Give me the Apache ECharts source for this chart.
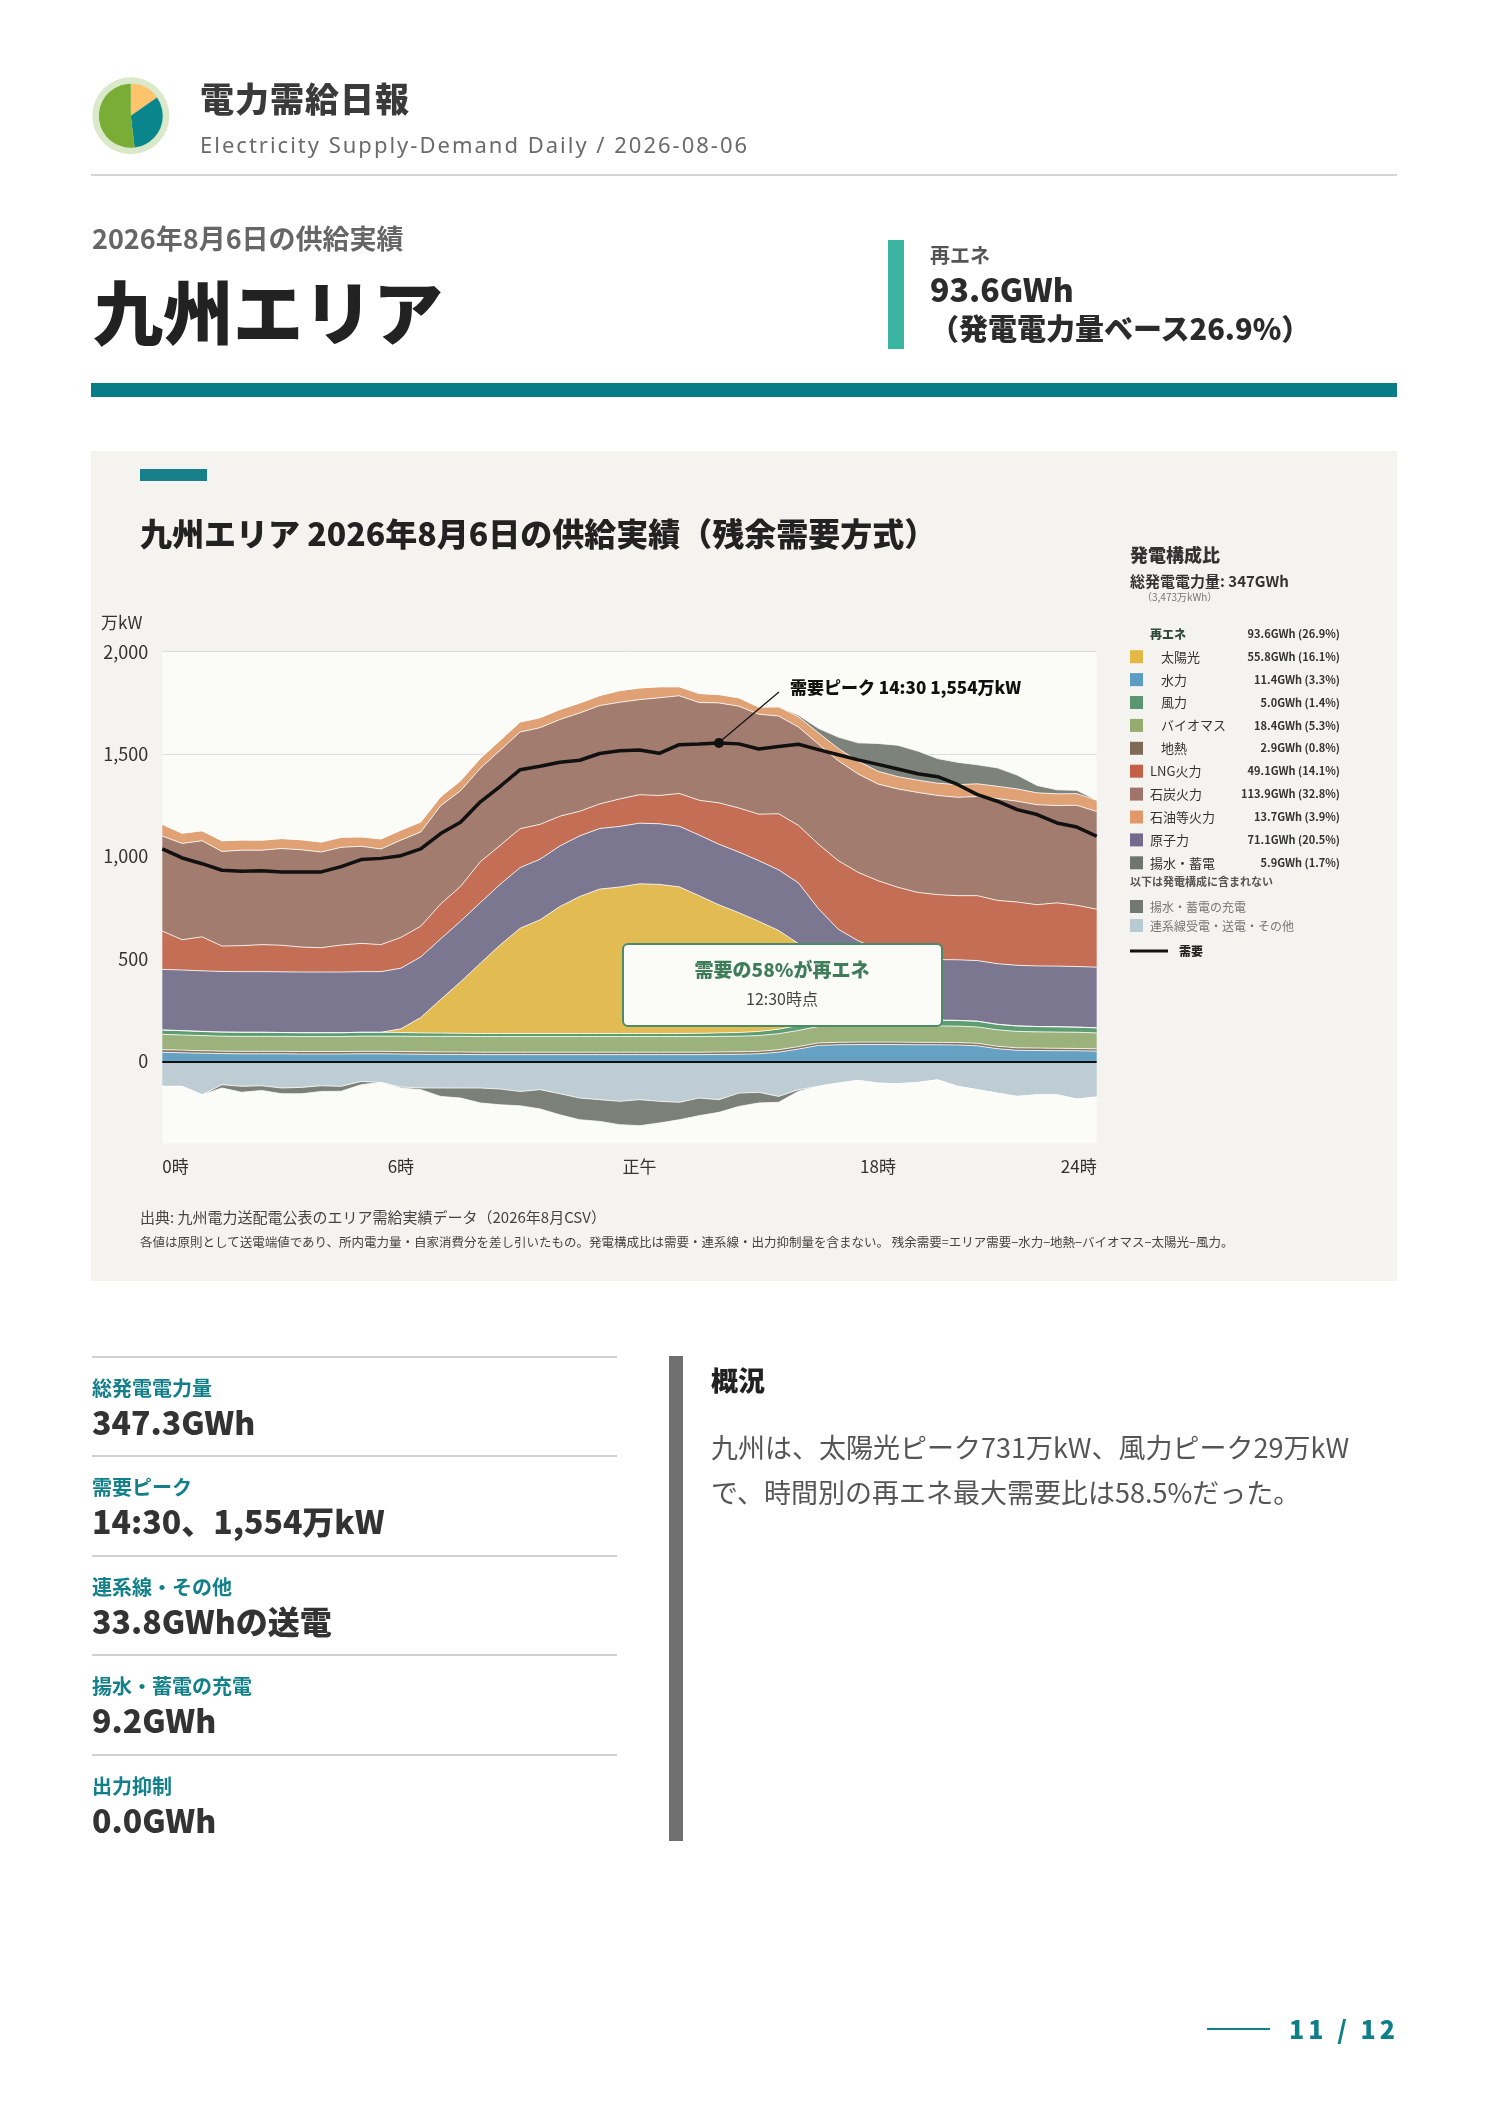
<!DOCTYPE html>
<html lang="ja">
<head>
<meta charset="utf-8">
<title>電力需給日報 九州エリア 2026-08-06</title>
<script src="https://cdn.jsdelivr.net/npm/echarts@6.0.0/dist/echarts.min.js"></script>
<style>
  html, body { margin: 0; padding: 0; background: #fff; }
  body { width: 1488px; height: 2105px; position: relative; overflow: hidden;
         font-family: 'Noto Sans CJK JP', 'Noto Sans', sans-serif; color: #333; }
  .a { position: absolute; white-space: nowrap; line-height: 1; z-index: 2; }
  .b { position: absolute; z-index: 0; }
  #chart { position: absolute; left: 0; top: 0; width: 1488px; height: 2105px; z-index: 1; }
  .lbl { font-size: 20px; font-weight: 700; color: #11808a; }
  .val { font-size: 32px; font-weight: 900; color: #333; }
</style>
</head>
<body>
<!-- 背景ブロック -->
<div class="b" style="left:91px;top:451px;width:1306px;height:830px;background:#f4f3ef;"></div>
<div id="chart"></div>

<!-- ヘッダー -->
<div class="a" style="left:200px;top:81px;font-size:34px;font-weight:900;color:#3a3a3a;letter-spacing:1px;">電力需給日報</div>
<div class="a" style="left:200px;top:133px;font-size:22px;color:#6a6a6a;letter-spacing:2px;font-family:'Noto Sans',sans-serif;">Electricity Supply-Demand Daily / 2026-08-06</div>
<div class="b" style="left:91px;top:174px;width:1306px;height:2px;background:#d4d4d4;"></div>

<div class="a" style="left:92px;top:224px;font-size:27px;font-weight:700;color:#666;">2026年8月6日の供給実績</div>
<div class="a" style="left:93px;top:275px;font-size:70px;font-weight:900;color:#222;">九州エリア</div>

<div class="b" style="left:888px;top:240px;width:16px;height:109px;background:#3cb4a2;"></div>
<div class="a" style="left:930px;top:245px;font-size:20px;font-weight:700;color:#555;">再エネ</div>
<div class="a" style="left:930px;top:272px;font-size:32px;font-weight:900;color:#2b2b2b;">93.6GWh</div>
<div class="a" style="left:930px;top:313px;font-size:29px;font-weight:900;color:#2b2b2b;">（発電電力量ベース26.9%）</div>
<div class="b" style="left:91px;top:383px;width:1306px;height:14px;background:#077d87;"></div>

<!-- チャートブロック内テキスト -->
<div class="a" style="left:140px;top:469px;width:67px;height:12px;background:#17808a;"></div>
<div class="a" style="left:140px;top:516px;font-size:32px;font-weight:900;color:#222;">九州エリア 2026年8月6日の供給実績（残余需要方式）</div>
<div class="a" style="left:101px;top:613px;font-size:17px;color:#333;">万kW</div>
<div class="a" style="left:140px;top:1209px;font-size:15px;color:#444;">出典: 九州電力送配電公表のエリア需給実績データ（2026年8月CSV）</div>
<div class="a" style="left:140px;top:1236px;font-size:12.5px;color:#444;">各値は原則として送電端値であり、所内電力量・自家消費分を差し引いたもの。発電構成比は需要・連系線・出力抑制量を含まない。 残余需要=エリア需要−水力−地熱−バイオマス−太陽光−風力。</div>

<!-- 指標 -->
<div class="b" style="left:92px;top:1356px;width:525px;height:2px;background:#d0d0d0;"></div>
<div class="a lbl" style="left:92px;top:1378px;">総発電電力量</div>
<div class="a val" style="left:92px;top:1405px;">347.3GWh</div>
<div class="b" style="left:92px;top:1455px;width:525px;height:2px;background:#d0d0d0;"></div>
<div class="a lbl" style="left:92px;top:1477px;">需要ピーク</div>
<div class="a val" style="left:92px;top:1504px;">14:30、1,554万kW</div>
<div class="b" style="left:92px;top:1555px;width:525px;height:2px;background:#d0d0d0;"></div>
<div class="a lbl" style="left:92px;top:1577px;">連系線・その他</div>
<div class="a val" style="left:92px;top:1604px;">33.8GWhの送電</div>
<div class="b" style="left:92px;top:1654px;width:525px;height:2px;background:#d0d0d0;"></div>
<div class="a lbl" style="left:92px;top:1676px;">揚水・蓄電の充電</div>
<div class="a val" style="left:92px;top:1703px;">9.2GWh</div>
<div class="b" style="left:92px;top:1754px;width:525px;height:2px;background:#d0d0d0;"></div>
<div class="a lbl" style="left:92px;top:1776px;">出力抑制</div>
<div class="a val" style="left:92px;top:1803px;">0.0GWh</div>

<!-- 概況 -->
<div class="b" style="left:669px;top:1356px;width:14px;height:485px;background:#707070;"></div>
<div class="a" style="left:711px;top:1366px;font-size:27px;font-weight:900;color:#222;">概況</div>
<div class="a" style="left:711px;top:1424px;font-size:27px;line-height:45px;color:#555;">九州は、太陽光ピーク731万kW、風力ピーク29万kW<br>で、時間別の再エネ最大需要比は58.5%だった。</div>

<!-- フッター -->
<div class="b" style="left:1207px;top:2028px;width:63px;height:2px;background:#0e7f89;"></div>
<div class="a" style="left:1289px;top:2016px;font-size:25px;font-weight:900;color:#0e7f89;letter-spacing:4px;">11 / 12</div>

<script>
// ---------------- データ（万kW, 30分値）
var times = ['0:00','0:30','1:00','1:30','2:00','2:30','3:00','3:30','4:00','4:30','5:00','5:30',
             '6:00','6:30','7:00','7:30','8:00','8:30','9:00','9:30','10:00','10:30','11:00','11:30',
             '12:00','12:30','13:00','13:30','14:00','14:30','15:00','15:30','16:00','16:30','17:00','17:30',
             '18:00','18:30','19:00','19:30','20:00','20:30','21:00','21:30','22:00','22:30','23:00','23:30'];
var tickIndex = [0, 12, 24, 36, 47];
var tickText = ['0時', '6時', '正午', '18時', '24時'];
var gridValues = [500, 1000, 1500, 2000];

var hydro = [44,42,40,38,37,37,37,36,36,36,37,37,36,35,34,34,33,33,33,33,33,33,33,33,
             33,33,33,33,34,35,37,45,60,78,81,82,82,82,81,81,80,76,62,54,53,52,52,50];
var geothermal = [13,13,12,12,12,12,12,12,12,12,12,12,12,12,12,12,12,12,12,12,12,12,12,12,
                  12,12,12,12,12,12,12,12,12,12,12,12,12,12,12,12,12,12,12,12,12,12,11,11];
var biomass = [75,74,74,73,73,73,73,73,73,73,74,74,75,75,76,76,76,76,76,76,76,76,76,76,
               76,76,76,76,76,76,77,78,79,80,80,80,80,80,80,80,80,80,80,80,79,79,79,78];
var wind = [21,21,20,20,20,20,19,19,19,19,19,19,18,17,16,15,15,15,15,15,15,15,15,15,
            15,15,15,16,17,18,20,22,24,25,26,27,28,29,29,28,28,28,27,27,26,26,25,25];
var solar = [0,0,0,0,0,0,0,0,0,0,0,0,18,75,164,251,343,433,514,555,620,669,705,715,
             731,728,716,672,625,585,538,482,400,255,150,92,48,22,7,0,0,0,0,0,0,0,0,0];
var nuclear = [296,296,296,296,296,296,296,296,296,296,296,296,296,296,296,296,296,296,296,296,296,296,296,296,
               296,296,296,296,296,296,296,296,296,296,296,296,296,296,296,296,296,296,296,296,296,296,296,296];
var lng = [187,148,166,124,127,132,130,122,119,132,138,132,150,150,170,170,200,190,190,170,145,120,120,134,
           139,138,160,170,202,215,227,274,281,315,335,334,336,329,320,317,313,317,309,309,299,309,299,283];
var coal = [464,470,469,462,466,461,472,475,467,477,474,467,475,460,480,467,456,464,472,472,472,480,480,472,
            464,477,477,477,488,497,488,477,480,488,488,480,472,480,488,484,480,484,497,492,488,475,488,477];
var oil = [57,50,49,52,50,49,49,49,49,49,46,49,49,49,44,49,49,49,49,49,49,49,49,57,
           57,54,44,44,41,41,35,45,50,55,60,62,62,60,60,60,62,62,60,60,58,57,57,55];
var pumpGen = [0,0,0,0,0,0,0,0,0,0,0,0,0,0,0,0,0,0,0,0,0,0,0,0,
               0,0,0,0,0,0,0,0,8,22,55,90,136,153,142,120,109,93,90,68,36,20,16,0];
var interconnect = [-122,-122,-163,-114,-122,-119,-130,-127,-119,-122,-98,-103,-125,-130,-130,-130,-130,-135,-147,-138,-158,-179,-187,-195,
                    -187,-195,-200,-179,-187,-155,-151,-171,-138,-122,-106,-93,-106,-109,-103,-90,-122,-138,-155,-171,-163,-163,-184,-174];
var pumpCharge = [0,0,0,-16,-29,-23,-28,-31,-28,-24,-16,0,-5,-8,-41,-49,-73,-77,-70,-94,-103,-106,-106,-114,
                  -127,-106,-85,-86,-62,-65,-52,-29,-8,0,0,0,0,0,0,0,0,0,0,0,0,0,0,0];
var demand = [1037,993,965,933,928,931,925,925,925,951,985,991,1004,1037,1112,1167,1267,1343,1424,1441,1460,1470,1503,1516,
              1520,1504,1546,1549,1554,1550,1525,1537,1548,1522,1497,1472,1450,1427,1404,1390,1352,1302,1270,1229,1205,1164,1144,1099];

// 発電構成比（凡例）
var mixNames = ['太陽光','水力','風力','バイオマス','地熱','LNG火力','石炭火力','石油等火力','原子力','揚水・蓄電'];
var mixGWh = [55.8, 11.4, 5.0, 18.4, 2.9, 49.1, 113.9, 13.7, 71.1, 5.9];
var mixShare = [16.1, 3.3, 1.4, 5.3, 0.8, 14.1, 32.8, 3.9, 20.5, 1.7];
var mixColors = ['#e3b845','#5b9dc0','#5a9670','#92ad6f','#7f6a55','#c56048','#a0746a','#e09a6a','#736b8f','#6f756c'];
var areaColors = ['#e2bc52','#65a1c2','#5e9c72','#9bb27c','#85705b','#c46f55','#a27c6e','#e0a274','#7b7791','#7d827a'];
var renewGWh = 93.6, renewShare = 26.9, renewCount = 5;
var totalGWh = 347, totalManKWh = '3,473';
var logoShares = [15.3, 32.8, 51.9];
var logoColors = ['#fdc46b', '#0b858c', '#7aad36'];

var peakLabel = '需要ピーク 14:30 1,554万kW';
var boxTitle = '需要の58%が再エネ';
var boxSub = '12:30時点';

// ---------------- 通用
var FONT = "'Noto Sans CJK JP', sans-serif";
var chart = echarts.init(document.getElementById('chart'));

function band(name, data, color) {
    return {
        name: name, type: 'line', stack: 'supply', stackStrategy: 'samesign',
        data: data, symbol: 'none', z: 2,
        lineStyle: { color: 'rgba(255,255,255,0.8)', width: 1 },
        areaStyle: { color: color, opacity: 1 },
        itemStyle: { color: color },
        emphasis: { disabled: true }
    };
}

var peakIdx = demand.indexOf(Math.max.apply(null, demand));

var series = [
    { // 目盛線（面の下に描く）
        name: 'grid', type: 'line', data: times.map(function () { return null; }),
        symbol: 'none', z: 1, silent: true,
        markLine: {
            z: 1, silent: true, symbol: ['none', 'none'], label: { show: false }, animation: false,
            lineStyle: { color: '#dcdcdc', width: 1, type: 'solid' },
            data: gridValues.map(function (v) { return { yAxis: v }; })
        }
    },
    band('水力', hydro, areaColors[1]),
    band('地熱', geothermal, areaColors[4]),
    band('バイオマス', biomass, areaColors[3]),
    band('風力', wind, areaColors[2]),
    band('太陽光', solar, areaColors[0]),
    band('原子力', nuclear, areaColors[8]),
    band('LNG火力', lng, areaColors[5]),
    band('石炭火力', coal, areaColors[6]),
    band('石油等火力', oil, areaColors[7]),
    band('揚水・蓄電', pumpGen, areaColors[9]),
    band('連系線受電・送電・その他', interconnect, '#bdcdd3'),
    band('揚水・蓄電の充電', pumpCharge, '#7b8078'),
    {
        name: '需要', type: 'line', data: demand, symbol: 'none', z: 6,
        lineStyle: { color: '#111', width: 3.5 },
        emphasis: { disabled: true },
        markLine: {
            z: 5, silent: true, symbol: ['none', 'none'], label: { show: false }, animation: false,
            lineStyle: { color: '#111', width: 2.2, type: 'solid' },
            data: [{ yAxis: 0 }]
        },
        markPoint: {
            z: 7, silent: true, symbol: 'circle', symbolSize: 10, animation: false,
            itemStyle: { color: '#111' }, label: { show: false },
            data: [{ coord: [times[peakIdx], demand[peakIdx]] }]
        }
    },
    { // ロゴ
        type: 'pie', center: [130.8, 115.8], radius: [0, 32], startAngle: 90, z: 3,
        silent: true, label: { show: false }, labelLine: { show: false },
        data: logoShares.map(function (v, i) { return { value: v, itemStyle: { color: logoColors[i] } }; })
    }
];

var option = {
    animation: false,
    textStyle: { fontFamily: FONT },
    grid: { left: 162.3, top: 651.7, width: 934.4, height: 491.6, show: true,
            backgroundColor: '#fbfbf7', borderWidth: 0 },
    xAxis: {
        type: 'category', data: times, boundaryGap: false,
        axisLine: { show: false }, axisTick: { show: false }, splitLine: { show: false },
        axisLabel: {
            interval: function (i) { return tickIndex.indexOf(i) >= 0; },
            formatter: function (v, i) { var k = tickIndex.indexOf(i); return k >= 0 ? tickText[k] : ''; },
            margin: 15, fontSize: 17, color: '#333', fontFamily: FONT,
            alignMinLabel: 'left', alignMaxLabel: 'right'
        }
    },
    yAxis: {
        type: 'value', min: -400, max: 2000, interval: 100,
        axisLine: { show: false }, axisTick: { show: false }, splitLine: { show: false },
        axisLabel: {
            formatter: function (v) { return (v >= 0 && v % 500 === 0) ? v.toLocaleString('en-US') : ''; },
            margin: 14, fontSize: 18, color: '#333', fontFamily: FONT
        }
    },
    series: series
};
chart.setOption(option);

// ---------------- 注記・凡例（graphic）
function txt(x, y, s, font, fill, align) {
    return { type: 'text', z: 50, silent: true,
             style: { x: x, y: y, text: s, font: font, fill: fill,
                      textAlign: align || 'left', align: align || 'left',
                      textVerticalAlign: 'middle', verticalAlign: 'middle' } };
}
var g = [];
g.push({ type: 'circle', z: 0, silent: true, shape: { cx: 130.8, cy: 115.8, r: 38.5 }, style: { fill: '#d9e9c9' } });

// ピーク注記
var p = chart.convertToPixel({ gridIndex: 0 }, [peakIdx, demand[peakIdx]]);
g.push({ type: 'line', z: 50, silent: true,
         shape: { x1: p[0] + 3, y1: p[1] - 3, x2: p[0] + 60, y2: p[1] - 51 },
         style: { stroke: '#111', lineWidth: 1.2 } });
g.push(txt(p[0] + 71, p[1] - 56, peakLabel, '900 17px ' + FONT, '#111'));

// 再エネ比率ボックス
g.push({ type: 'rect', z: 50, silent: true,
         shape: { x: 623, y: 944, width: 319, height: 82, r: 5 },
         style: { fill: '#fbfbf7', stroke: '#4d8a68', lineWidth: 2 } });
g.push(txt(782, 970, boxTitle, '900 19px ' + FONT, '#3f7d5a', 'center'));
g.push(txt(782, 999, boxSub, '16px ' + FONT, '#444', 'center'));

// 発電構成比
var LX = 1130, VX = 1340;
g.push(txt(LX, 555, '発電構成比', '900 18px ' + FONT, '#333'));
g.push(txt(LX, 581, '総発電電力量: ' + totalGWh + 'GWh', 'bold 15px ' + FONT, '#333'));
g.push(txt(LX + 12, 597, '（' + totalManKWh + '万kWh）', '10px ' + FONT, '#777'));
g.push(txt(1150, 634, '再エネ', '900 12px ' + FONT, '#2f4a37'));
g.push(txt(VX, 634, renewGWh.toFixed(1) + 'GWh (' + renewShare.toFixed(1) + '%)', 'bold 11px ' + FONT, '#333', 'right'));
mixNames.forEach(function (n, i) {
    var y = 656.7 + i * 22.9;
    g.push({ type: 'rect', z: 50, silent: true, shape: { x: LX, y: y - 6.5, width: 13, height: 13 },
             style: { fill: mixColors[i] } });
    g.push(txt(i < renewCount ? 1161 : 1150, y, n, '13px ' + FONT, '#333'));
    g.push(txt(VX, y, mixGWh[i].toFixed(1) + 'GWh (' + mixShare[i].toFixed(1) + '%)', 'bold 11px ' + FONT, '#333', 'right'));
});
g.push(txt(LX, 882, '以下は発電構成に含まれない', 'bold 11px ' + FONT, '#555'));
g.push({ type: 'rect', z: 50, silent: true, shape: { x: LX, y: 900, width: 13, height: 13 }, style: { fill: '#737870' } });
g.push(txt(1150, 907, '揚水・蓄電の充電', '12px ' + FONT, '#777'));
g.push({ type: 'rect', z: 50, silent: true, shape: { x: LX, y: 919, width: 13, height: 13 }, style: { fill: '#b8cad2' } });
g.push(txt(1150, 926, '連系線受電・送電・その他', '12px ' + FONT, '#777'));
g.push({ type: 'line', z: 50, silent: true, shape: { x1: LX, y1: 951, x2: 1168, y2: 951 },
         style: { stroke: '#111', lineWidth: 3 } });
g.push(txt(1179, 951, '需要', '900 12px ' + FONT, '#222'));

chart.setOption({ graphic: { elements: g } });
</script>
</body>
</html>
